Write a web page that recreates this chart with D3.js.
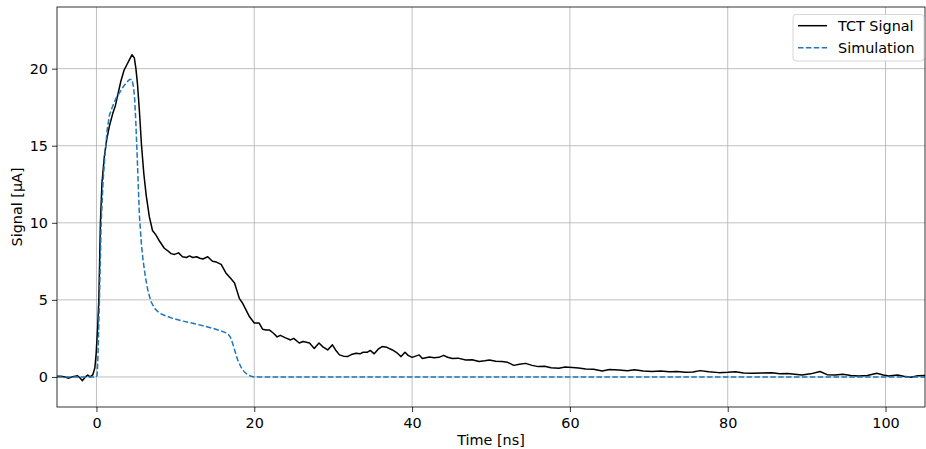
<!DOCTYPE html>
<html>
<head>
<meta charset="utf-8">
<script src="https://cdn.jsdelivr.net/npm/d3@7"></script>
<style>
  body { margin: 0; background: #fff; }
  text { font-family: "DejaVu Sans", sans-serif; }
</style>
</head>
<body>
<div id="chart"></div>
<script>
// data
var tctTime = [-5, -4.5, -4, -3.5, -3, -2.4, -2.1, -1.8, -1.4, -1.1, -0.8, -0.47, -0.2, -0.04, 0.15, 0.3, 0.5, 0.7, 1.0,
  1.3, 1.65, 2.07, 2.4, 2.7, 3.1, 3.5, 3.9, 4.2, 4.5, 4.8, 5.0, 5.2, 5.45, 5.7, 6.0, 6.3, 6.7, 7.1, 7.55, 8.0, 8.6,
  9.0, 9.45, 9.9, 10.4, 10.9, 11.4, 11.8, 12.2, 12.7, 13.1, 13.5, 14.1, 14.7, 15.2, 15.8, 16.4, 17.0, 17.5, 17.8,
  18.1, 18.5, 18.95, 19.4, 20.0, 20.6, 21.05, 21.5, 21.9, 22.4, 22.9, 23.3, 23.9, 24.6, 25.0, 25.7, 26.2, 27.0,
  27.6, 28.2, 28.7, 29.3, 29.9, 30.3, 30.8, 31.3, 31.8, 32.3, 32.9, 33.4, 33.8, 34.3, 34.7, 35.2, 35.7, 36.2, 36.8,
  37.5, 38.0, 38.6, 39.1, 39.5, 40.0, 40.9, 41.3, 42.2, 42.8, 43.4, 44.0, 44.5, 45.1, 45.8, 46.8, 47.6, 48.5, 49.2,
  49.8, 50.6, 51.4, 52.1, 52.9, 53.6, 54.4, 55.2, 56.0, 56.8, 57.6, 58.6, 59.4, 60.3, 61.1, 62.0, 63.0, 64.1, 65.0,
  66.2, 67.3, 68.2, 69.3, 70.4, 71.5, 72.6, 73.6, 74.6, 75.6, 76.5, 77.6, 78.9, 80.0, 81.0, 82.0, 83.1, 84.3, 85.6,
  86.6, 87.6, 88.5, 89.4, 90.5, 91.7, 92.6, 93.6, 94.6, 95.6, 96.6, 97.7, 98.9, 99.7, 100.4, 101.5, 102.3, 103.2,
  104.1, 105];
var tctSignal = [0.05, 0.05, 0.0, -0.08, 0.02, 0.08, -0.05, -0.24, 0.0, 0.12, 0.0, 0.13, 0.6, 1.5, 3.2, 5.0, 10.0, 12.6, 14.3,
  15.4, 16.3, 17.1, 17.6, 18.3, 19.2, 19.9, 20.3, 20.6, 20.9, 20.7, 20.0, 19.0, 17.2, 15.1, 13.2, 11.8, 10.4, 9.5, 9.2, 8.8, 8.35,
  8.2, 8.0, 7.95, 8.05, 7.8, 7.75, 7.85, 7.75, 7.8, 7.7, 7.65, 7.8, 7.5, 7.45, 7.3, 6.75, 6.4, 6.1, 5.6,
  5.1, 4.8, 4.35, 3.9, 3.5, 3.5, 3.1, 3.05, 3.05, 2.85, 2.6, 2.7, 2.55, 2.4, 2.5, 2.2, 2.3, 2.2,
  1.85, 2.2, 1.95, 1.75, 2.08, 1.75, 1.43, 1.35, 1.32, 1.45, 1.54, 1.5, 1.6, 1.6, 1.72, 1.5, 1.8, 1.97, 1.92,
  1.75, 1.6, 1.32, 1.6, 1.4, 1.27, 1.43, 1.2, 1.3, 1.25, 1.27, 1.4, 1.28, 1.2, 1.22, 1.1, 1.12, 1.0, 1.05,
  1.1, 1.02, 1.0, 0.95, 0.75, 0.82, 0.88, 0.75, 0.67, 0.7, 0.6, 0.56, 0.65, 0.62, 0.58, 0.52, 0.5, 0.39, 0.48,
  0.45, 0.4, 0.46, 0.38, 0.35, 0.38, 0.33, 0.36, 0.3, 0.32, 0.41, 0.34, 0.28, 0.3, 0.33, 0.26, 0.24, 0.26, 0.27,
  0.2, 0.22, 0.18, 0.13, 0.2, 0.35, 0.15, 0.13, 0.17, 0.1, 0.06, 0.1, 0.24, 0.12, 0.06, 0.13, 0.05, -0.02,
  0.08, 0.09];

var simTime = [-5, 0.0, 0.1, 0.2, 0.38, 0.6, 0.85, 1.1, 1.35, 1.65, 2.0, 2.5, 3.0, 3.3, 3.8, 4.2, 4.5, 4.7, 4.85, 5.0,
  5.2, 5.45, 5.7, 5.9, 6.2, 6.5, 6.9, 7.35, 8.0, 8.6, 9.65, 11.0, 12.2, 13.5, 14.7, 15.7, 16.6, 16.95, 17.25, 17.6,
  17.9, 18.3, 18.7, 19.2, 19.8, 20.5, 105];
var simSignal = [0, 0, 0.2, 1.5, 5.0, 10.0, 12.8, 14.5, 16.0, 17.0, 17.5, 18.1, 18.5, 18.75, 19.1, 19.3, 19.3, 18.8, 18.0, 16.4,
  13.8, 10.4, 8.6, 7.6, 6.5, 5.65, 4.9, 4.46, 4.13, 4.0, 3.8, 3.62, 3.48, 3.32, 3.16, 3.0, 2.83, 2.6, 2.19, 1.6,
  1.1, 0.65, 0.35, 0.12, 0.02, 0, 0];

var xTicks = [0, 20, 40, 60, 80, 100];
var yTicks = [0, 5, 10, 15, 20];
var seriesNames = ["TCT Signal", "Simulation"];

var fontSize = 14.4;

// canvas
var W = 926, H = 449;
var margin = {top: 7, right: 1, bottom: 42, left: 57},
    width = W - margin.left - margin.right,
    height = H - margin.top - margin.bottom;

var svg = d3.select("#chart")
  .append("svg")
    .attr("width", W)
    .attr("height", H)
  .append("g")
    .attr("transform", "translate(" + margin.left + "," + margin.top + ")");

var xScale = d3.scaleLinear().domain([-5, 105]).range([0, width]);
var yScale = d3.scaleLinear().domain([-1.95, 24.0]).range([height, 0]);

// grid
svg.append("g").selectAll("line")
  .data(xTicks).enter().append("line")
    .attr("x1", d => xScale(d)).attr("x2", d => xScale(d))
    .attr("y1", 0).attr("y2", height)
    .attr("stroke", "#b0b0b0").attr("stroke-width", 0.8);
svg.append("g").selectAll("line")
  .data(yTicks).enter().append("line")
    .attr("y1", d => yScale(d)).attr("y2", d => yScale(d))
    .attr("x1", 0).attr("x2", width)
    .attr("stroke", "#b0b0b0").attr("stroke-width", 0.8);

// axes
var xAxis = d3.axisBottom(xScale).tickValues(xTicks).tickSize(5).tickPadding(6);
var yAxis = d3.axisLeft(yScale).tickValues(yTicks).tickSize(5).tickPadding(4);

var gx = svg.append("g")
    .attr("transform", "translate(0," + height + ")")
    .call(xAxis);
var gy = svg.append("g").call(yAxis);

[gx, gy].forEach(g => {
  g.select(".domain").remove();
  g.selectAll("text").attr("font-size", fontSize).attr("font-family", "DejaVu Sans").attr("fill", "#000");
  g.selectAll("line").attr("stroke", "#000").attr("stroke-width", 0.8);
});

// lines
var line = d3.line()
    .x(d => xScale(d[0]))
    .y(d => yScale(d[1]));

svg.append("path")
    .datum(tctTime.map((t, i) => [t, tctSignal[i]]))
    .attr("d", line)
    .attr("fill", "none")
    .attr("stroke", "#000")
    .attr("stroke-width", 1.5)
    .attr("stroke-linejoin", "round");

svg.append("path")
    .datum(simTime.map((t, i) => [t, simSignal[i]]))
    .attr("d", line)
    .attr("fill", "none")
    .attr("stroke", "#1f77b4")
    .attr("stroke-width", 1.5)
    .attr("stroke-dasharray", "5.5,2.4");

// frame
svg.append("rect")
    .attr("x", 0).attr("y", 0)
    .attr("width", width).attr("height", height)
    .attr("fill", "none")
    .attr("stroke", "#000")
    .attr("stroke-width", 0.8);

// axis labels
svg.append("text")
    .attr("text-anchor", "middle")
    .attr("x", width / 2)
    .attr("y", height + 38)
    .attr("font-size", fontSize)
    .text("Time [ns]");

svg.append("text")
    .attr("text-anchor", "middle")
    .attr("transform", "translate(" + (-35.3) + "," + (height / 2) + ") rotate(-90)")
    .attr("font-size", fontSize)
    .text("Signal [μA]");

// legend
var legend = svg.append("g")
    .attr("transform", "translate(" + (793 - margin.left) + "," + (14.5 - margin.top) + ")");

legend.append("rect")
    .attr("width", 131).attr("height", 46.5)
    .attr("rx", 3)
    .attr("fill", "#fff").attr("fill-opacity", 0.8)
    .attr("stroke", "#cccccc").attr("stroke-width", 0.8);

seriesNames.forEach((name, i) => {
  var yy = 11.2 + i * 22;
  legend.append("line")
      .attr("x1", 5).attr("x2", 34)
      .attr("y1", yy).attr("y2", yy)
      .attr("stroke", i === 0 ? "#000" : "#1f77b4")
      .attr("stroke-width", 1.5)
      .attr("stroke-dasharray", i === 0 ? null : "5.5,2.4");
  legend.append("text")
      .attr("x", 45).attr("y", yy + 5.5)
      .attr("font-size", fontSize)
      .text(name);
});
</script>
</body>
</html>
